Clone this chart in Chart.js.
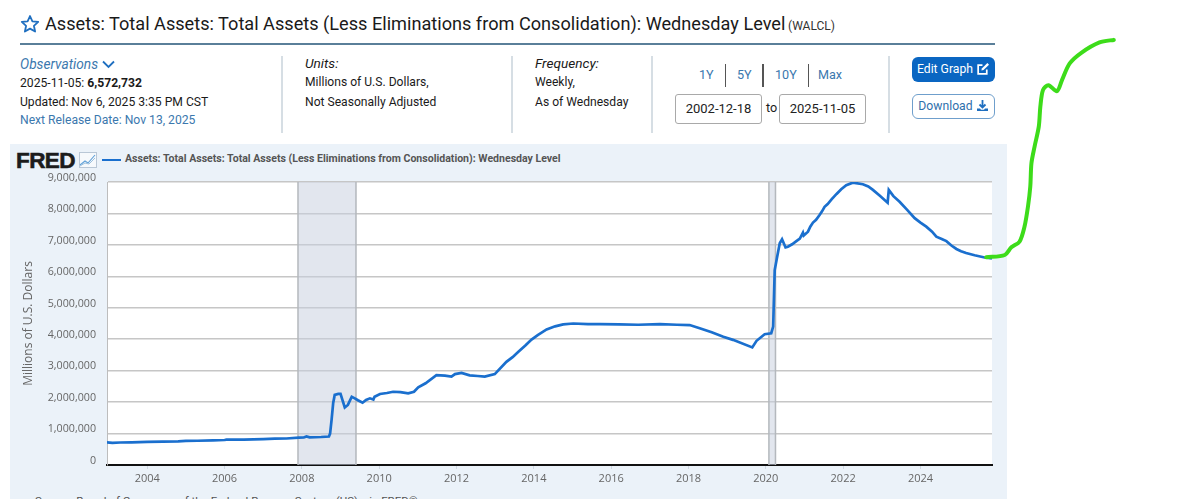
<!DOCTYPE html>
<html><head><meta charset="utf-8">
<script src="https://cdn.jsdelivr.net/npm/chart.js@4"></script>
<style>
html,body{margin:0;padding:0;width:1200px;height:499px;overflow:hidden;background:#fff;font-family:Roboto,sans-serif;color:#1a1a1a}
.a{position:absolute;white-space:nowrap}
.sep{position:absolute;width:1.5px;background:#d6dee4}
.blue{color:#3b78ae}
.box{position:absolute;box-sizing:border-box;border:1px solid #a9a9a9;border-radius:3px;top:94px;height:30px;width:87px;text-align:center;line-height:28px;font-size:13px;color:#222}
.btn{position:absolute;left:912px;width:83px;height:25px;border-radius:6px;box-sizing:border-box;text-align:center;line-height:24px;font-size:12.2px}
canvas{position:absolute;left:0;top:0}
</style></head><body>
<svg class="a" style="left:20px;top:14px" width="20" height="20" viewBox="0 0 20 20"><path d="M10 2l2.4 5.3 5.8.6-4.3 3.9 1.2 5.7L10 14.6l-5.1 2.9 1.2-5.7L1.8 7.9l5.8-.6z" fill="none" stroke="#1f6fc0" stroke-width="1.8" stroke-linejoin="round"/></svg>
<div class="a" style="left:45px;top:12px;font-size:18.7px;line-height:24px;transform:scaleX(.971);transform-origin:left center">Assets: Total Assets: Total Assets (Less Eliminations from Consolidation): Wednesday Level</div>
<div class="a" style="left:788px;top:18px;font-size:12px;line-height:16px;color:#333">(WALCL)</div>
<div class="a" style="left:20px;top:43px;width:975px;height:2px;background:#5a7f99"></div>

<div class="a blue" style="left:20px;top:56px;font-size:13.7px;font-style:italic;line-height:16px">Observations <svg width="13" height="9" viewBox="0 0 13 9" style="margin-left:1px"><path d="M1 1.5l5.5 5.5 5.5-5.5" fill="none" stroke="#1f6fc0" stroke-width="1.8"/></svg></div>
<div class="a" style="left:20px;top:75px;font-size:12.15px;line-height:16px">2025-11-05: <b>6,572,732</b></div>
<div class="a" style="left:20px;top:94px;font-size:12.15px;line-height:16px">Updated: Nov 6, 2025 3:35 PM CST</div>
<div class="a blue" style="left:20px;top:112px;font-size:12.15px;line-height:16px">Next Release Date: Nov 13, 2025</div>
<div class="sep" style="left:281px;top:56px;height:77px"></div>
<div class="a" style="left:305px;top:55px;font-size:13.6px;font-style:italic;line-height:16px">Units:</div>
<div class="a" style="left:305px;top:74px;font-size:12.1px;line-height:16px">Millions of U.S. Dollars,</div>
<div class="a" style="left:305px;top:94px;font-size:12.1px;line-height:16px">Not Seasonally Adjusted</div>
<div class="sep" style="left:511px;top:56px;height:77px"></div>
<div class="a" style="left:535px;top:55px;font-size:13.6px;font-style:italic;line-height:16px">Frequency:</div>
<div class="a" style="left:535px;top:74px;font-size:12.1px;line-height:16px">Weekly,</div>
<div class="a" style="left:535px;top:94px;font-size:12.1px;line-height:16px">As of Wednesday</div>
<div class="sep" style="left:651px;top:56px;height:77px"></div>
<div class="a blue" style="left:699px;top:67px;font-size:12.6px;line-height:16px">1Y</div>
<div class="a" style="left:725px;top:64px;width:1px;height:23px;background:#555"></div>
<div class="a blue" style="left:737px;top:67px;font-size:12.6px;line-height:16px">5Y</div>
<div class="a" style="left:762px;top:64px;width:1.5px;height:23px;background:#555"></div>
<div class="a blue" style="left:775px;top:67px;font-size:12.6px;line-height:16px">10Y</div>
<div class="a" style="left:808px;top:64px;width:1px;height:23px;background:#555"></div>
<div class="a blue" style="left:818px;top:67px;font-size:12.6px;line-height:16px">Max</div>
<div class="box" style="left:675px">2002-12-18</div>
<div class="a" style="left:766px;top:100px;font-size:12.6px;line-height:16px">to</div>
<div class="box" style="left:779px">2025-11-05</div>
<div class="sep" style="left:888px;top:56px;height:77px"></div>
<div class="btn" style="top:57px;background:#0a66c2;color:#fff">Edit Graph <svg width="14" height="14" viewBox="0 0 13 13" style="vertical-align:-3px"><path d="M10 7v4H2V3h4" fill="none" stroke="#fff" stroke-width="1.6"/><path d="M5 8l.4-2L10.6 1l1.5 1.5L7 7.5z" fill="#fff"/></svg></div>
<div class="btn" style="top:94px;background:#fff;border:1px solid #6f9fcc;color:#2f70ac;line-height:23px">Download <svg width="13" height="13" viewBox="0 0 13 13" style="vertical-align:-2px"><path d="M6.5 1v7M3.5 5.5l3 3 3-3" fill="none" stroke="#1f6fc0" stroke-width="1.8"/><path d="M1 9.5h3l1 1.2h3l1-1.2h3V12H1z" fill="#1f6fc0"/></svg></div>

<div class="a" style="left:10px;top:144px;width:997px;height:355px;background:#ebf2f9"></div>
<div class="a" style="left:16px;top:147px;font-family:'Liberation Sans',sans-serif;font-weight:bold;font-size:22.5px;line-height:28px;color:#1c1c1c;letter-spacing:-.6px;-webkit-text-stroke:.6px #1c1c1c">FRED</div>
<svg class="a" style="left:79px;top:152px" width="18" height="16" viewBox="0 0 18 16"><rect x=".5" y=".5" width="17" height="15" fill="#f6f9fc" stroke="#b9c7d6"/><path d="M1 13l5-4 3 2 7-8" fill="none" stroke="#5fa0d8" stroke-width="1.1"/><path d="M1 14l5-3 4 1 6-6" fill="none" stroke="#9cc0dd" stroke-width="1"/></svg>
<div class="a" style="left:102px;top:158.5px;width:19px;height:2.5px;background:#1a6fce"></div>
<div class="a" style="left:125px;top:152px;font-size:10.56px;font-weight:700;line-height:14px;color:#555">Assets: Total Assets: Total Assets (Less Eliminations from Consolidation): Wednesday Level</div>
<div class="a" style="left:35px;top:494px;font-size:11.5px;line-height:14px;color:#555">Source: Board of Governors of the Federal Reserve System (US)&nbsp;&nbsp;via FRED®</div>
<canvas id="c" width="1200" height="499"></canvas>
<script>
const years = [2002.96,2003.1,2003.3,2003.6,2004.0,2004.4,2004.8,2005.0,2005.3,2005.7,2006.0,2006.05,2006.5,2007.0,2007.3,2007.6,2007.92,2008.05,2008.12,2008.2,2008.5,2008.7,2008.73,2008.77,2008.81,2008.85,2008.94,2009.0,2009.11,2009.19,2009.29,2009.37,2009.45,2009.57,2009.66,2009.76,2009.85,2009.88,2010.02,2010.2,2010.36,2010.55,2010.75,2010.9,2011.01,2011.2,2011.48,2011.7,2011.87,2011.96,2012.13,2012.34,2012.55,2012.73,2012.99,2013.29,2013.45,2013.6,2013.78,2013.94,2014.1,2014.33,2014.55,2014.76,2015.02,2015.4,2015.71,2016.2,2016.7,2017.26,2017.7,2018.03,2018.29,2018.6,2018.9,2019.15,2019.65,2019.76,2019.97,2020.14,2020.19,2020.23,2020.29,2020.36,2020.42,2020.51,2020.57,2020.68,2020.79,2020.88,2020.96,2020.98,2021.09,2021.15,2021.22,2021.3,2021.39,2021.45,2021.52,2021.6,2021.7,2021.83,2021.95,2022.08,2022.25,2022.51,2022.65,2022.77,2022.95,2023.15,2023.18,2023.3,2023.46,2023.65,2023.85,2024.0,2024.15,2024.3,2024.41,2024.55,2024.67,2024.8,2024.93,2025.05,2025.18,2025.4,2025.66,2025.85];
const assets = [720000,705000,715000,722000,735000,742000,752000,765000,772000,785000,795000,805000,808000,825000,838000,842000,870000,875000,910000,880000,890000,905000,1000000,1450000,1970000,2230000,2260000,2260000,1830000,1910000,2170000,2120000,2060000,1980000,2070000,2120000,2080000,2170000,2260000,2290000,2330000,2320000,2280000,2330000,2470000,2600000,2860000,2840000,2810000,2890000,2930000,2850000,2830000,2810000,2890000,3280000,3430000,3600000,3800000,3990000,4130000,4310000,4410000,4470000,4500000,4480000,4480000,4470000,4460000,4480000,4460000,4450000,4350000,4220000,4080000,3980000,3740000,3950000,4160000,4190000,4400000,6200000,6600000,7050000,7180000,6920000,6940000,7020000,7120000,7200000,7390000,7300000,7420000,7580000,7710000,7800000,7950000,8060000,8210000,8300000,8450000,8620000,8770000,8900000,8980000,8930000,8860000,8750000,8560000,8340000,8750000,8550000,8370000,8120000,7850000,7710000,7580000,7420000,7260000,7190000,7120000,6980000,6870000,6800000,6740000,6670000,6600000,6572732];
const penYears = [2025.70,2026.18,2026.35,2026.56,2026.69,2026.78,2026.84,2026.87,2026.95,2027.06,2027.10,2027.17,2027.31,2027.53,2027.66,2027.86,2028.16,2028.63,2029.00,2028.98];
const penValues = [6605000,6678000,6923000,7101000,7578000,8215000,8851000,9595000,10120000,10760000,11390000,11930000,12080000,11890000,12240000,12770000,13110000,13440000,13520000,13510000];
const recessionStarts = [2007.90,2020.08];
const recessionEnds = [2009.40,2020.25];
const yTicks = [0,1000000,2000000,3000000,4000000,5000000,6000000,7000000,8000000,9000000];
const xTicks = [2004,2006,2008,2010,2012,2014,2016,2018,2020,2022,2024];
const xMin = 2002.96, xMax = 2025.85;
const seriesName = 'Assets: Total Assets: Total Assets (Less Eliminations from Consolidation): Wednesday Level';

const plotBg = {id:'plotBg',beforeDraw(ch){const a=ch.chartArea,c=ch.ctx;c.save();c.fillStyle='#fff';c.fillRect(a.left,a.top,a.right-a.left,a.bottom-a.top);c.restore();},
 beforeDatasetsDraw(ch){const a=ch.chartArea,c=ch.ctx,x=ch.scales.x;c.save();
  recessionStarts.forEach((s,i)=>{const l=x.getPixelForValue(s),r=x.getPixelForValue(recessionEnds[i]);
   c.fillStyle='rgba(200,208,222,.52)';c.fillRect(l,a.top,r-l,a.bottom-a.top);
   c.strokeStyle='#b4b8bd';c.lineWidth=1.5;c.beginPath();c.moveTo(l,a.top);c.lineTo(l,a.bottom);c.moveTo(r,a.top);c.lineTo(r,a.bottom);c.stroke();});
  c.restore();}};

new Chart(document.getElementById('c'),{
 type:'line',
 data:{datasets:[
  {label:seriesName,data:years.map((x,i)=>({x,y:assets[i]})),borderColor:'#1a6fce',borderWidth:2.7,pointRadius:0,tension:0,order:2},
  {label:'',data:penYears.map((x,i)=>({x,y:penValues[i]})),borderColor:'#3ddc1a',borderWidth:4,pointRadius:0,tension:0.3,clip:false,order:1,borderCapStyle:'round',borderJoinStyle:'round'}
 ]},
 plugins:[plotBg],
 options:{responsive:false,animation:false,devicePixelRatio:1,
  layout:{padding:{left:0,right:208,top:182,bottom:0}},
  plugins:{legend:{display:false},tooltip:{enabled:false},title:{display:false}},
  scales:{
   x:{type:'linear',min:xMin,max:xMax,
    afterBuildTicks(s){s.ticks=xTicks.map(value=>({value}));},
    afterFit(s){s.height=34;},
    grid:{display:true,drawOnChartArea:false,color:'#cfd8e2',tickLength:4},
    border:{color:'#111',width:2},
    ticks:{autoSkip:false,maxRotation:0,padding:3,color:'#666',font:{family:'Open Sans',size:11},callback:v=>String(v)}},
   y:{min:0,max:9000000,
    afterBuildTicks(s){s.ticks=yTicks.map(value=>({value}));},
    afterFit(s){s.width=107;},
    grid:{color:'#c6c6c6',lineWidth:1.5,drawTicks:false},
    border:{color:'#bdbdbd',width:1},
    title:{display:true,text:'Millions of U.S. Dollars',color:'#666',font:{family:'Open Sans',size:12},padding:{top:21,bottom:0}},
    ticks:{padding:11,color:'#666',font:{family:'Open Sans',size:10.7,lineHeight:.8},callback:v=>[v.toLocaleString('en-US'),'']}}
  }}
});
</script>
</body></html>
